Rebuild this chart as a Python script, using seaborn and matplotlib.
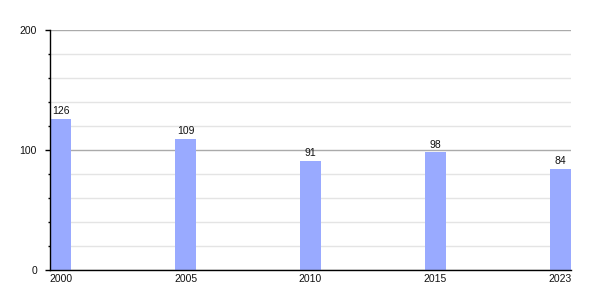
import matplotlib
matplotlib.use("Agg")
import matplotlib.pyplot as plt
import seaborn as sns
import pandas as pd
from matplotlib.ticker import MultipleLocator

years = ["2000", "2005", "2010", "2015", "2023"]
values = [126, 109, 91, 98, 84]

sns.set_theme(style="white")
plt.rcParams['font.family'] = ['Liberation Sans', 'DejaVu Sans']

fig = plt.figure(figsize=(6, 3), dpi=100)
ax = fig.add_axes([50/600, 30/300, 521/600, 240/300])

df = pd.DataFrame({"year": years, "value": values})
sns.barplot(data=df, x="year", y="value", color="#99aaff", saturation=1,
            width=0.168, ax=ax, zorder=2, linewidth=0, edgecolor="none")

for c in ax.containers:
    ax.bar_label(c, fmt="%d", padding=2, fontsize=7.5, color="#111111")

ax.set_xlim(-0.084, 4.084)
ax.set_ylim(0, 200)
ax.yaxis.set_major_locator(MultipleLocator(100))
ax.yaxis.set_minor_locator(MultipleLocator(20))
ax.grid(which="major", axis="y", color="#aaaaaa", linewidth=1)
ax.grid(which="minor", axis="y", color="#e4e4e4", linewidth=1)
ax.grid(which="major", axis="x", visible=False)
ax.set_axisbelow(True)

for s in ["top", "right"]:
    ax.spines[s].set_visible(False)
for s in ["left", "bottom"]:
    ax.spines[s].set_color("black")
    ax.spines[s].set_linewidth(1)
    ax.spines[s].set_zorder(3)

ax.tick_params(axis="y", which="major", left=True, length=3.6, width=1, color="black",
               labelsize=7.5, pad=5.8, labelcolor="#111111")
ax.tick_params(axis="y", which="minor", left=True, length=1.8, width=1, color="black")
ax.tick_params(axis="x", bottom=False, length=0, labelsize=7.5, pad=3, labelcolor="#111111")
ax.set_xlabel("")
ax.set_ylabel("")

fig.savefig("out.png", dpi=100)
